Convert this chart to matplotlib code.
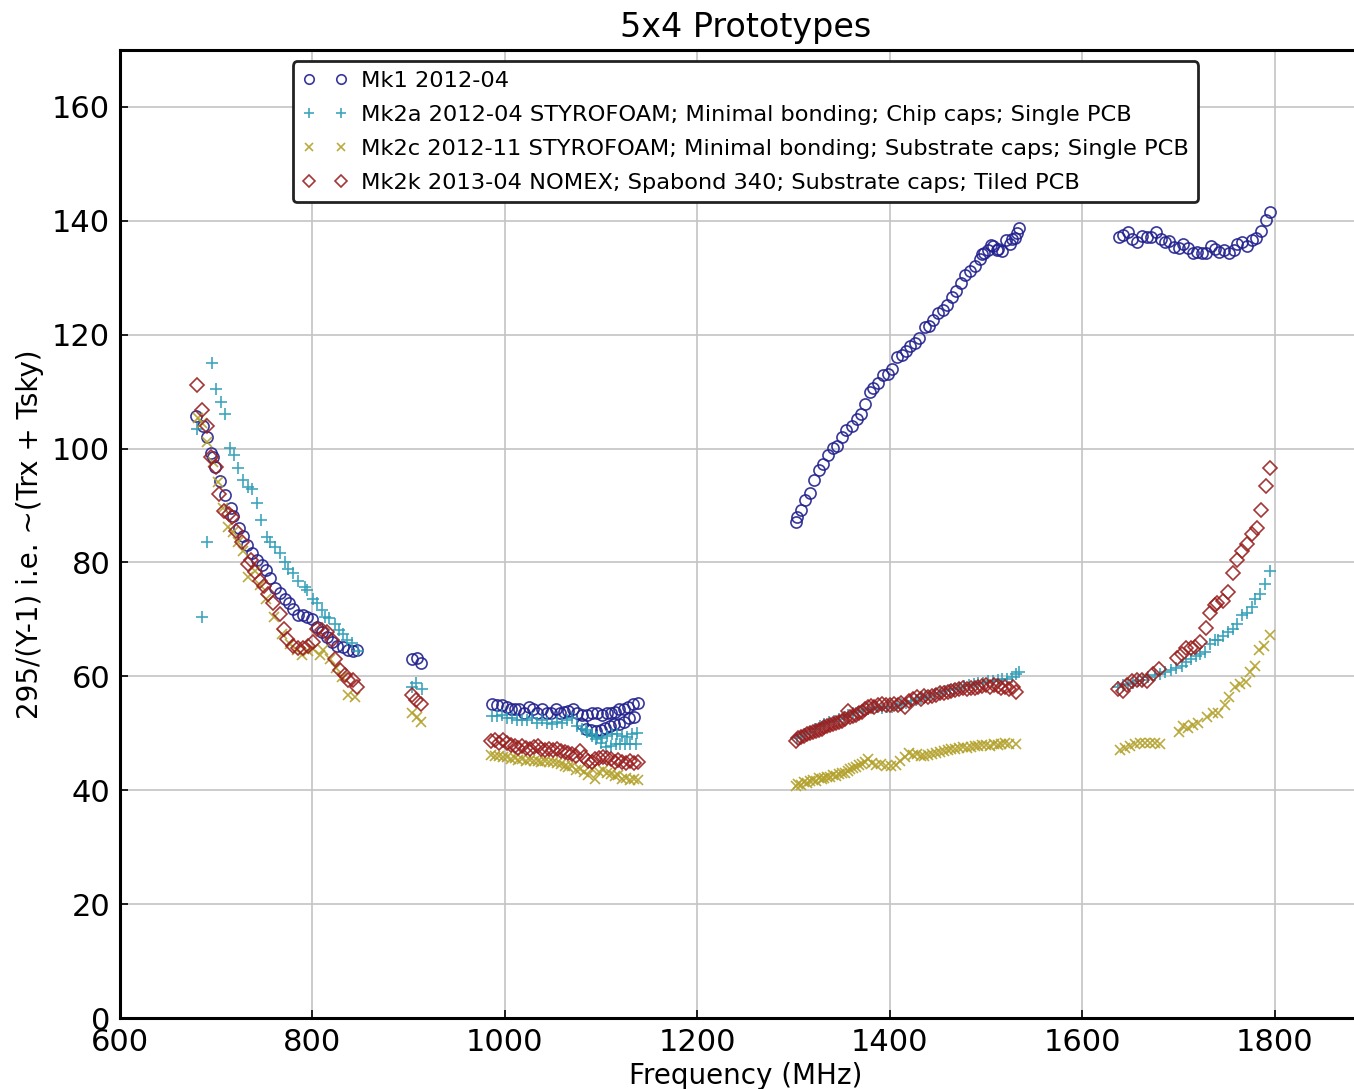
import matplotlib
matplotlib.use("Agg")
import matplotlib.pyplot as plt

# Mk1 2012-04
mk1_freq = [679.0, 685.9, 690.1, 694.6, 696.7, 698.7, 703.9, 709.1, 715.0, 717.4, 723.7, 727.8, 732.0,
            737.2, 742.1, 747.3, 751.7, 755.9, 761.1, 766.3, 771.5, 775.6, 779.8, 785.0, 789.9, 794.0,
            799.2, 804.4, 809.6, 814.8, 820.0, 825.2, 831.5, 837.0, 841.8, 846.6,
            903.8, 908.4, 913.1,
            986.9, 992.1, 997.3, 1001.9, 1006.4, 1010.5, 1015.0, 1019.9, 1025.1, 1029.6, 1033.7, 1038.9,
            1043.5, 1048.0, 1052.8, 1057.3, 1061.8, 1066.0, 1070.5, 1074.6, 1079.8, 1085.0, 1090.2,
            1095.4, 1100.6, 1105.8, 1110.3, 1114.4, 1118.9, 1124.1, 1128.3, 1133.5, 1138.7,
            1079.8, 1084.3, 1089.1, 1094.7, 1099.6, 1104.1, 1109.3, 1113.8, 1119.0, 1124.1, 1129.3, 1134.2,
            1302.6, 1303.3, 1307.5, 1311.9, 1317.1, 1321.6, 1326.5, 1331.0, 1336.2, 1341.3, 1344.9, 1350.0,
            1354.5, 1360.5, 1365.6, 1370.1, 1374.3, 1379.5, 1382.9, 1387.5, 1392.6, 1398.5, 1402.0, 1407.2,
            1412.4, 1416.9, 1421.0, 1426.2, 1430.7, 1436.6, 1440.8, 1445.3, 1450.5, 1455.0, 1459.2, 1464.4,
            1468.8, 1473.7, 1478.2, 1483.4, 1488.6, 1493.8, 1495.5, 1497.9, 1502.4, 1505.5, 1507.0, 1511.7,
            1512.5, 1516.3, 1520.8, 1524.9, 1526.5, 1530.1, 1531.8, 1534.3,
            1638.3, 1642.8, 1647.3, 1652.1, 1657.3, 1662.5, 1667.0, 1671.5, 1676.7, 1681.6, 1686.1, 1690.6,
            1695.4, 1700.6, 1705.1, 1710.3, 1714.8, 1719.6, 1724.2, 1728.6, 1733.6, 1738.0, 1742.5, 1747.4,
            1752.9, 1757.8, 1761.2, 1765.8, 1771.0, 1776.2, 1780.7, 1785.6, 1790.7, 1795.2]
mk1_val = [105.8, 103.9, 102.1, 99.2, 98.5, 96.7, 94.3, 91.8, 89.5, 88.2, 86.0, 84.7, 83.0,
           81.6, 80.5, 79.6, 78.6, 77.2, 75.5, 74.6, 73.5, 72.8, 71.9, 70.7, 70.7, 70.5,
           70.0, 68.6, 67.8, 66.9, 66.0, 65.4, 65.1, 64.7, 64.4, 64.7,
           63.1, 63.3, 62.3,
           55.2, 54.9, 55.0, 54.6, 54.3, 54.3, 54.3, 53.5, 54.6, 54.2, 53.5, 54.2,
           53.5, 53.6, 54.3, 53.5, 53.7, 54.0, 54.2, 53.5, 53.2, 53.2, 53.5,
           53.5, 53.2, 53.5, 53.5, 53.7, 54.3, 54.2, 54.6, 55.1, 55.3,
           51.6, 50.8, 50.5, 50.4, 50.6, 51.0, 51.2, 51.6, 51.7, 52.0, 52.6, 52.9,
           87.1, 88.0, 89.2, 90.9, 92.2, 94.4, 96.3, 97.3, 98.8, 100.1, 100.5, 102.0,
           103.2, 103.9, 105.2, 106.1, 107.8, 109.9, 110.6, 111.5, 113.0, 113.1, 114.0, 116.0,
           116.5, 117.2, 118.1, 118.6, 119.5, 121.3, 121.6, 122.6, 123.8, 124.3, 125.3, 126.7,
           127.7, 129.0, 130.5, 131.2, 132.1, 133.3, 134.2, 134.3, 134.9, 135.8, 135.6, 134.9,
           135.0, 134.7, 136.6, 136.0, 136.8, 137.0, 137.8, 138.8,
           137.2, 137.5, 138.1, 136.8, 136.2, 137.4, 137.1, 137.1, 138.1, 136.8, 136.2, 136.5,
           135.4, 135.2, 135.9, 135.2, 134.4, 134.6, 134.3, 134.3, 135.5, 135.0, 134.6, 134.9,
           134.3, 134.9, 136.0, 136.2, 135.6, 136.6, 137.0, 138.2, 140.1, 141.6]

# Mk2a 2012-04
mk2a_freq = [679.7, 684.9, 690.1, 695.3, 699.8, 704.7, 709.1, 714.3, 718.5, 723.0, 727.5, 733.4, 737.5,
             742.1, 746.5, 752.5, 755.9, 761.1, 766.3, 771.5, 774.9, 780.1, 785.3, 792.3, 794.0, 800.3,
             804.4, 809.6, 813.0, 817.5, 823.5, 827.9, 831.4, 835.6, 840.8, 847.7,
             903.8, 907.6, 913.6,
             986.9, 992.1, 997.3, 1002.5, 1007.7, 1012.9, 1018.1, 1023.3, 1028.5, 1033.7, 1038.9, 1044.1,
             1049.3, 1054.5, 1059.7, 1064.9, 1070.1, 1074.6, 1079.8, 1085.0, 1090.2, 1095.4, 1100.6,
             1105.8, 1111.0, 1116.2, 1121.4, 1126.6, 1131.8, 1137.0,
             1084.0, 1090.0, 1095.0, 1100.0, 1105.0, 1110.0, 1115.0, 1120.0, 1125.0, 1130.0, 1136.0,
             1303, 1308, 1312, 1317, 1322, 1327, 1332, 1337, 1342, 1347, 1352, 1357, 1362, 1367, 1372,
             1377, 1382, 1387, 1392, 1397, 1402, 1407, 1412, 1417, 1422, 1427, 1432, 1437, 1442, 1447,
             1452, 1457, 1462, 1467, 1472, 1477, 1482, 1487, 1492, 1497, 1502, 1507, 1512, 1517, 1522,
             1527, 1531, 1534,
             1637.5, 1642.7, 1647.9, 1653.1, 1658.3, 1663.5, 1668.7, 1675.7, 1680.9, 1686.1, 1692.0,
             1697.5, 1703.4, 1707.9, 1712.8, 1718.3, 1722.4, 1727.6, 1732.8, 1738.0, 1741.5, 1746.7,
             1751.9, 1757.1, 1760.6, 1765.8, 1771.0, 1776.2, 1779.6, 1784.8, 1790.0, 1795.2]
mk2a_val = [103.5, 70.4, 83.6, 115.0, 110.5, 108.1, 106.1, 100.1, 98.8, 96.6, 94.5, 93.3, 92.9,
            90.4, 87.5, 84.4, 83.6, 82.7, 81.6, 80.1, 78.9, 78.1, 76.8, 75.7, 75.2, 73.6,
            72.8, 71.7, 70.4, 70.3, 69.2, 68.1, 67.5, 66.4, 65.8, 64.4,
            58.2, 58.8, 57.8,
            53.0, 53.0, 53.2, 52.6, 52.6, 52.4, 52.4, 52.3, 52.6, 51.8, 52.4, 51.8,
            51.6, 52.0, 51.8, 52.4, 52.6, 51.2, 50.8, 50.2, 49.6, 49.4, 49.1,
            49.6, 49.9, 49.9, 49.6, 49.4, 49.9, 50.0,
            50.6, 49.8, 49.0, 48.3, 47.6, 47.8, 48.1, 48.1, 48.1, 48.2, 48.1,
            49.2, 49.6, 49.9, 50.3, 50.8, 51.3, 51.6, 51.9, 52.2, 52.5, 52.9, 53.2, 53.5, 53.8, 54.1,
            54.3, 54.5, 54.6, 54.5, 54.6, 54.7, 54.9, 55.1, 55.3, 55.6, 55.9, 56.2, 56.4, 56.6, 56.9,
            57.1, 57.4, 57.6, 57.8, 58.0, 58.3, 58.4, 58.6, 58.8, 58.9, 59.1, 59.2, 59.4, 59.5, 59.6,
            59.8, 60.5, 60.8,
            58.1, 58.4, 58.7, 58.8, 59.2, 59.4, 59.8, 60.2, 60.5, 60.8, 61.2,
            61.4, 61.9, 62.5, 63.1, 63.5, 64.0, 64.3, 65.7, 66.3, 66.4, 67.0,
            67.8, 68.4, 69.2, 70.7, 71.1, 72.2, 73.5, 74.5, 76.3, 78.5]

# Mk2c 2012-11
mk2c_freq = [680.8, 685.0, 690.1, 697.0, 702.2, 707.0, 712.6, 717.8, 723.0, 728.0, 733.3, 740.0, 745.5,
             752.0, 760.0, 768.0, 776.7, 783.7, 788.8, 795.0, 801.0, 807.9, 811.3, 818.0, 824.0, 830.4,
             837.3, 844.2,
             903.8, 908.4, 913.1,
             986, 990, 994, 998, 1002, 1006, 1010, 1014, 1018, 1022, 1026, 1030, 1034, 1038, 1042, 1046,
             1050, 1054, 1058, 1062, 1066, 1070, 1074, 1078, 1082, 1086, 1090, 1094, 1098, 1102, 1106,
             1110, 1114, 1118, 1122, 1126, 1130, 1134, 1138,
             1302, 1305, 1308, 1311, 1314, 1317, 1320, 1323, 1326, 1329, 1332, 1335, 1338, 1341, 1344,
             1347, 1350, 1353, 1356, 1359, 1362, 1365, 1368, 1371, 1374, 1377, 1381, 1386, 1391, 1396,
             1401, 1406, 1411, 1416, 1420, 1424, 1428, 1432, 1436, 1440, 1444, 1448, 1452, 1456, 1460,
             1464, 1468, 1472, 1476, 1480, 1484, 1488, 1492, 1496, 1500, 1504, 1508, 1512, 1516, 1520,
             1524, 1531,
             1639.3, 1644.5, 1649.7, 1654.9, 1660.1, 1665.3, 1670.5, 1675.7, 1680.9, 1700.0, 1705.1,
             1710.3, 1715.5, 1720.7, 1729.4, 1736.3, 1741.5, 1748.4, 1752.9, 1758.8, 1764.0, 1770.2,
             1774.4, 1779.6, 1784.1, 1789.3, 1795.2]
mk2c_val = [105.3, 104.5, 101.1, 97.6, 94.2, 89.5, 86.2, 85.3, 83.6, 82.0, 77.4, 78.5, 76.0,
            73.5, 70.5, 67.5, 65.7, 64.6, 63.7, 64.5, 64.8, 63.7, 64.6, 63.0, 61.5, 59.9,
            56.7, 56.4,
            53.6, 52.9, 52.0,
            46.2, 46.0, 46.1, 45.8, 45.9, 45.5, 45.6, 45.3, 45.4, 45.2, 45.3, 45.1, 45.2, 45.0, 45.1, 45.0,
            44.9, 44.8, 44.6, 44.3, 44.0, 44.2, 43.6, 43.8, 43.2, 42.6, 43.8, 42.0, 43.2, 43.5, 43.0,
            42.8, 42.5, 42.6, 42.0, 42.2, 41.8, 42.0, 41.8,
            40.8, 41.1, 41.0, 41.4, 41.3, 41.6, 41.8, 41.7, 42.1, 42.0, 42.2, 42.4, 42.3, 42.6, 42.5,
            42.8, 43.0, 43.1, 43.4, 43.7, 43.9, 44.1, 44.4, 44.6, 44.9, 45.4, 44.7, 44.5, 44.6, 44.3,
            44.3, 44.5, 45.2, 45.8, 46.6, 46.2, 46.3, 46.1, 46.0, 46.2, 46.4, 46.5, 46.7, 46.9, 47.0,
            47.2, 47.3, 47.5, 47.6, 47.4, 47.6, 47.8, 47.7, 47.9, 48.0, 47.8, 48.1, 47.9, 48.2, 48.3,
            48.1, 48.1,
            47.1, 47.5, 47.7, 48.2, 48.3, 48.3, 48.3, 48.3, 48.2, 50.2, 51.2,
            51.0, 51.4, 51.8, 52.9, 53.6, 53.6, 54.9, 56.4, 58.2, 58.7, 59.0,
            60.8, 61.9, 64.6, 65.3, 67.2]

# Mk2k 2013-04
mk2k_freq = [680.0, 685.0, 690.0, 694.6, 699.5, 703.0, 708.4, 713.0, 716.0, 721.0, 726.5, 732.7, 736.5,
             740.3, 745.0, 749.7, 754.0, 759.3, 766.3, 770.4, 773.9, 780.1, 785.3, 790.5, 795.7, 800.9,
             804.4, 809.6, 814.8, 820.0, 823.5, 828.6, 833.8, 837.3, 841.8, 846.6,
             903.2, 907.3, 912.8,
             986, 990, 994, 998, 1002, 1006, 1010, 1014, 1018, 1022, 1026, 1030, 1034, 1038, 1042, 1046,
             1050, 1054, 1058, 1062, 1066, 1070, 1074, 1078, 1082, 1086, 1090, 1094, 1098, 1102, 1106,
             1110, 1114, 1118, 1122, 1126, 1130, 1134, 1138,
             1302, 1305, 1308, 1311, 1314, 1317, 1320, 1323, 1326, 1329, 1332, 1335, 1338, 1341, 1344,
             1347, 1350, 1353, 1356, 1359, 1362, 1365, 1368, 1371, 1374, 1377, 1380, 1384, 1388, 1392,
             1396, 1400, 1404, 1408, 1412, 1416, 1420, 1424, 1428, 1432, 1436, 1440, 1444, 1448, 1452,
             1456, 1460, 1464, 1468, 1472, 1476, 1480, 1484, 1488, 1492, 1496, 1500, 1504, 1508, 1512,
             1516, 1520, 1524, 1528, 1531,
             1637.5, 1642.1, 1646.2, 1651.4, 1656.6, 1661.8, 1667.0, 1673.9, 1680.1, 1698.8, 1703.4,
             1707.9, 1712.8, 1717.3, 1722.4, 1728.6, 1732.8, 1738.0, 1740.3, 1745.9, 1751.9, 1757.1,
             1760.6, 1765.8, 1771.0, 1776.2, 1781.4, 1785.6, 1790.7, 1795.2]
mk2k_val = [111.1, 106.8, 103.9, 98.5, 96.8, 92.1, 89.1, 88.6, 88.0, 85.5, 83.6, 79.8, 80.5,
            78.3, 76.8, 75.8, 74.5, 72.8, 71.0, 68.4, 66.6, 65.4, 64.9, 65.0, 65.4, 66.0,
            68.4, 68.1, 67.8, 66.3, 63.1, 61.1, 60.2, 59.3, 59.3, 58.1,
            56.7, 55.9, 55.1,
            48.6, 48.8, 48.3, 48.9, 48.3, 48.0, 47.8, 47.5, 47.7, 47.5, 47.3, 47.6, 47.7, 47.3, 47.1, 47.3,
            47.0, 47.2, 46.9, 46.8, 46.6, 46.3, 46.0, 46.9, 45.9, 45.2, 44.9, 45.5, 45.6, 45.8, 45.6,
            45.4, 45.0, 45.3, 45.0, 44.8, 45.2, 44.7, 45.0,
            48.7, 49.1, 49.3, 49.6, 49.8, 50.0, 50.2, 50.4, 50.6, 50.8, 51.1, 51.3, 51.5, 51.7, 51.8,
            52.0, 52.2, 52.5, 54.0, 52.8, 53.1, 53.3, 53.5, 53.8, 54.2, 54.6, 54.8, 54.7, 54.9, 55.1,
            54.9, 55.0, 55.2, 54.9, 55.3, 54.6, 55.7, 56.0, 56.3, 56.1, 56.5, 56.4, 56.6, 56.8, 57.0,
            57.1, 57.3, 57.5, 57.6, 57.7, 57.9, 57.8, 58.0, 57.9, 58.1, 58.3, 58.5, 58.2, 58.4, 58.3,
            58.0, 58.2, 57.8, 58.1, 57.2,
            57.7, 57.4, 58.4, 59.2, 59.4, 59.4, 59.2, 60.5, 61.3, 63.3, 64.0,
            65.0, 64.9, 65.1, 66.0, 68.5, 71.1, 72.5, 72.9, 73.2, 74.8, 78.1,
            80.5, 82.1, 83.3, 85.0, 86.1, 89.2, 93.5, 96.6]

labels = ["Mk1 2012-04",
          "Mk2a 2012-04 STYROFOAM; Minimal bonding; Chip caps; Single PCB",
          "Mk2c 2012-11 STYROFOAM; Minimal bonding; Substrate caps; Single PCB",
          "Mk2k 2013-04 NOMEX; Spabond 340; Substrate caps; Tiled PCB"]

fig = plt.figure(figsize=(13.54, 10.89), dpi=100)
ax = fig.add_axes([120 / 1354, 71 / 1089, 1251 / 1354, 968 / 1089])

ax.plot(mk1_freq, mk1_val, 'o', ls='none', mfc='none', mec='#22228f', mew=1.2, ms=8, alpha=0.9, label=labels[0])
ax.plot(mk2a_freq, mk2a_val, '+', ls='none', color='#2a9db5', mew=1.2, ms=8, alpha=0.9, label=labels[1])
ax.plot(mk2c_freq, mk2c_val, 'x', ls='none', color='#b3a12a', mew=1.2, ms=7, alpha=0.9, label=labels[2])
ax.plot(mk2k_freq, mk2k_val, 'D', ls='none', mfc='none', mec='#9a2020', mew=1.2, ms=7, alpha=0.9, label=labels[3])

ax.set_xlim(600, 1900)
ax.set_ylim(0, 170)
ax.set_xticks(range(600, 1900, 200))
ax.set_yticks(range(0, 170, 20))
ax.grid(True, color='#c4c4c4', lw=1.2)
ax.set_axisbelow(True)
ax.tick_params(direction='in', labelsize=22, length=6, width=1.2, pad=7)
for s in ax.spines.values():
    s.set_linewidth(2.2)

ax.set_title("5x4 Prototypes", fontsize=24, pad=9)
ax.set_xlabel("Frequency (MHz)", fontsize=20, labelpad=4)
ax.set_ylabel("295/(Y-1) i.e. ~(Trx + Tsky)", fontsize=20, labelpad=6)

leg = ax.legend(loc='upper center', numpoints=2, fontsize=16.2, markerscale=0.85,
                fancybox=True, framealpha=1, borderpad=0.42, labelspacing=0.62,
                handlelength=2.0, handletextpad=0.6, borderaxespad=0.5)
leg.get_frame().set_edgecolor('#222222')
leg.get_frame().set_linewidth(2.0)

fig.savefig("out.png", dpi=100)
